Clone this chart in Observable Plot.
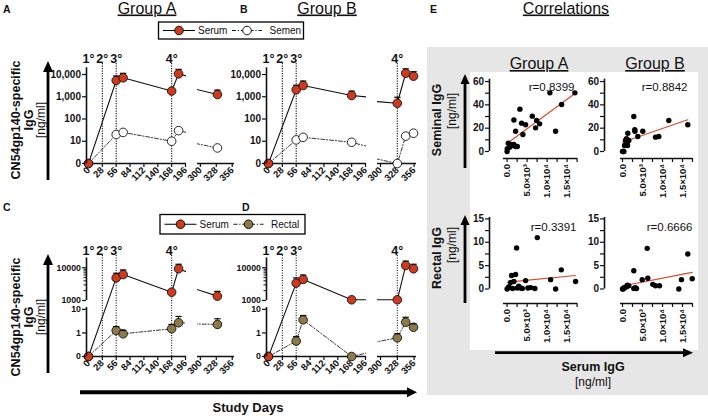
<!DOCTYPE html>
<html><head><meta charset="utf-8">
<script src="https://cdn.jsdelivr.net/npm/d3@7"></script>
<script src="https://cdn.jsdelivr.net/npm/@observablehq/plot@0.6"></script>
<style>
body{margin:0;background:#fff;}
#fig{position:relative;width:708px;height:416px;overflow:hidden;font-family:'Liberation Sans',Arial,Helvetica,sans-serif;}
#fig svg{position:absolute;left:0;top:0;}
</style></head>
<body><div id="fig"></div>
<script>
// ---------------- DATA ----------------
const DAYS_A = [0, 56, 70, 168, 182, 330];
const SERUM_A = [0, 5400, 7100, 1800, 10700, 1260];
const SERUM_A_UP = [null, 8600, 11300, null, 17000, 2000];
const SEMEN_A = [0, 20, 25, 10, 30, 5];

const DAYS_B = [0, 56, 70, 168, 328, 342, 355];
const SERUM_B = [0, 2050, 3200, 1140, 510, 11400, 8400];
const SERUM_B_UP = [null, 3300, 5100, 1800, 950, 18000, 13400];
const SEMEN_B = [0, 11.5, 15, 9, 0, 17, 23];

const SERUM_C = [0, 4900, 6200, 1790, 9300, 1360];
const SERUM_C_UP = [null, 6800, 8600, null, 12800, 1900];
const RECTAL_C = [0, 1.27, 0.92, 1.5, 2.7, 2.3];
const RECTAL_C_UP = [null, 1.86, 1.27, 2.3, 5.0, 4.0];

const SERUM_D = [0, 3400, 4400, 1050, 1050, 11700, 9300];
const SERUM_D_UP = [null, 4900, 6000, null, null, 16000, 12800];
const RECTAL_D = [0, 0.45, 3.6, 0, 0.62, 2.85, 1.75];
const RECTAL_D_UP = [null, 0.7, 5.5, null, 0.92, 4.6, 2.4];

const VACC_LABELS = ["1°", "2°", "3°", "4°"];
const VACC_DAYS_A = [0, 28, 56, 168];
const VACC_DAYS_B = [0, 28, 56, 328];

const X_TICKS_LEFT = [0, 28, 56, 84, 112, 140, 168, 196];
const X_TICKS_RIGHT = [300, 328, 356];
const Y_TICKS_AB = [1, 10, 100, 1000, 10000];
const Y_LABELS_AB = ["0", "10", "100", "1,000", "10,000"];
const Y_TICKS_CD = [0.1, 1, 10, 1000, 10000];
const Y_LABELS_CD = ["0", "1", "10", "1000", "10000"];
const Y_MINOR_CD = [2000, 3000, 4000, 5000, 6000, 7000, 8000, 9000];

// correlations (x = serum IgG, y = mucosal IgG)
const SEM_A_X = [0, 50, 300, 625, 875, 1300, 1700, 2125, 2550, 1700, 2125, 3200, 3625, 3950, 4625, 6300, 7125, 7375, 8125, 10700, 12125, 13625, 16950];
const SEM_A_Y = [0, 2.3, 7.1, 3.7, 6, 5.1, 6, 4.3, 4.3, 27, 17.4, 36.3, 24.3, 14.6, 22.9, 30.3, 20.3, 26.6, 23.7, 50.3, 17.4, 40.3, 50.3];
const SEM_B_X = [0, 150, 350, 500, 750, 1000, 1175, 1250, 1325, 1575, 2825, 3075, 3100, 3825, 5075, 8250, 9075, 11575, 16325];
const SEM_B_Y = [0, 0, 0, 5.1, 9.4, 10.9, 8, 5.1, 15.7, 9.4, 30, 18.6, 17.4, 12.9, 17.4, 12.3, 12.9, 26.6, 22.9];
const REC_A_X = [0, 250, 450, 875, 1125, 1400, 1700, 2125, 2375, 2550, 2900, 3375, 3800, 4625, 5200, 5900, 6950, 7550, 10875, 12125, 13550, 17125];
const REC_A_Y = [0, 0.2, 0.5, 1.4, 2.9, 0.1, 1.6, 3.1, 8.8, 0.2, 0.6, 0.2, 0.1, 1.8, 0.2, 0.3, 0.1, 11, 2.0, 0, 4.1, 1.6];
const REC_B_X = [0, 150, 325, 600, 1000, 1200, 1575, 2825, 2825, 3200, 3500, 4925, 6175, 6325, 7575, 8250, 9250, 14075, 14750, 16325, 17425];
const REC_B_Y = [0, 0, 0.2, 0.3, 0.5, 0.8, 0.7, 3.9, 0.1, 0.3, 0.1, 2.0, 8.7, 2.3, 1.0, 0.7, 0.7, 0, 2.0, 7.5, 2.2];
const R_LABELS = ["r=0.8399", "r=0.8842", "r=0.3391", "r=0.6666"];

const SC_X_TICKS = [0, 2500, 5000, 7500, 10000, 12500, 15000, 17500];
const SC_X_LABELS = {0: "0.0", 5000: "5.0×10³", 10000: "1.0×10⁴", 15000: "1.5×10⁴"};
const SEM_Y_TICKS = [0, 10, 20, 30, 40, 50, 60];
const SEM_Y_LABELS = {0: "0", 20: "20", 40: "40", 60: "60"};
const REC_Y_TICKS = [0, 2.5, 5, 7.5, 10, 12.5, 15];
const REC_Y_LABELS = {0: "0", 5: "5", 10: "10", 15: "15"};

// ---------------- STYLE ----------------
const W = 708, H = 416;
const FONT = "'Liberation Sans', Arial, Helvetica, sans-serif";
const RED = "#CD3A1E", OLIVE = "#8C7A48", REG = "#D9472C", INK = "#111";
const STYLE = {background: "transparent", overflow: "visible", fontFamily: FONT, fontSize: "10px", color: INK};
const CAP = {draw(ctx, size) { const r = Math.sqrt(size / Math.PI); ctx.moveTo(-r, 0); ctx.lineTo(r, 0); }};
const fig = document.getElementById("fig");

// ---------------- DECORATION ----------------
function txt(x, y, s, o = {}) {
  const {size = 12, weight = "normal", anchor = "start", rot = 0, under = false, base = "auto"} = o;
  const tr = rot ? ` transform="translate(${x},${y}) rotate(${rot})"` : "";
  const pos = rot ? ` x="0" y="0"` : ` x="${x}" y="${y}"`;
  return `<text${pos}${tr} font-size="${size}" font-weight="${weight}" text-anchor="${anchor}" dominant-baseline="${base}"${under ? ' text-decoration="underline"' : ''} fill="${INK}">${s}</text>`;
}
function arrowUp(x, yb, yt, w, hw, hl) {
  return `<line x1="${x}" y1="${yb}" x2="${x}" y2="${yt + hl - 1}" stroke="#000" stroke-width="${w}"/>` +
    `<polygon points="${x - hw / 2},${yt + hl} ${x + hw / 2},${yt + hl} ${x},${yt}" fill="#000"/>`;
}
function arrowRight(xl, xt, y, w, hw, hl) {
  return `<line x1="${xl}" y1="${y}" x2="${xt - hl + 1}" y2="${y}" stroke="#000" stroke-width="${w}"/>` +
    `<polygon points="${xt - hl},${y - hw / 2} ${xt - hl},${y + hw / 2} ${xt},${y}" fill="#000"/>`;
}
function legend(x, y, w, h, label2, fill2) {
  const cy = y + h / 2;
  return `<rect x="${x}" y="${y}" width="${w}" height="${h}" fill="#fff" stroke="#000" stroke-width="1.3"/>` +
    `<line x1="${x + 4.5}" x2="${x + 36.5}" y1="${cy}" y2="${cy}" stroke="#000" stroke-width="1"/>` +
    `<circle cx="${x + 20.5}" cy="${cy}" r="4.3" fill="${RED}" stroke="#000" stroke-width="0.9"/>` +
    txt(x + 39.5, cy + 3.6, "Serum", {size: 10}) +
    `<line x1="${x + 73.5}" x2="${x + 103.5}" y1="${cy}" y2="${cy}" stroke="#000" stroke-width="0.9" stroke-dasharray="4,1.8,1.2,1.8"/>` +
    `<circle cx="${x + 88.5}" cy="${cy}" r="4.3" fill="${fill2}" stroke="#000" stroke-width="0.9"/>` +
    txt(x + 111, cy + 3.6, label2, {size: 10});
}
function ylabelLeft(cy) {
  return txt(15.5, cy, "CN54gp140-specific", {size: 12.5, weight: "bold", anchor: "middle", rot: -90, base: "central"}) +
    txt(28.5, cy, "IgG", {size: 12.5, weight: "bold", anchor: "middle", rot: -90, base: "central"}) +
    txt(41, cy, "[ng/ml]", {size: 12, anchor: "middle", rot: -90, base: "central"});
}
let deco = "";
deco += `<rect x="427" y="47" width="281" height="348" fill="#E6E6E6"/>`;
deco += `<rect x="470" y="72" width="228" height="278" fill="#fff"/>`;
deco += txt(3, 13, "A", {size: 10.5, weight: "bold"}) + txt(240, 13, "B", {size: 10.5, weight: "bold"}) +
  txt(3, 211, "C", {size: 10.5, weight: "bold"}) + txt(242, 211, "D", {size: 10.5, weight: "bold"}) +
  txt(430, 13, "E", {size: 10.5, weight: "bold"});
deco += txt(147, 13.5, "Group A", {size: 16, anchor: "middle", under: true});
deco += txt(327, 13.5, "Group B", {size: 16, anchor: "middle", under: true});
deco += txt(566, 13.5, "Correlations", {size: 16, anchor: "middle", under: true});
deco += txt(539, 69, "Group A", {size: 16, anchor: "middle", under: true});
deco += txt(655, 69, "Group B", {size: 16, anchor: "middle", under: true});
deco += legend(158.5, 22, 145, 17, "Semen", "#fff");
deco += legend(160, 214.5, 145, 19.5, "Rectal", OLIVE);
deco += ylabelLeft(120) + ylabelLeft(317);
deco += arrowUp(48, 180, 61, 2.8, 10, 11);
deco += arrowUp(48, 373, 254, 2.8, 10, 11);
deco += arrowRight(80, 417, 392.3, 4, 10, 10);
deco += txt(248, 412, "Study Days", {size: 13, weight: "bold", anchor: "middle"});
deco += txt(437, 120, "Seminal IgG", {size: 12.5, weight: "bold", anchor: "middle", rot: -90, base: "central"});
deco += txt(452, 111, "[ng/ml]", {size: 12, anchor: "middle", rot: -90, base: "central"});
deco += txt(437, 258, "Rectal IgG", {size: 12.5, weight: "bold", anchor: "middle", rot: -90, base: "central"});
deco += txt(452, 245, "[ng/ml]", {size: 12, anchor: "middle", rot: -90, base: "central"});
deco += arrowUp(465, 168, 74, 2.8, 9, 10);
deco += arrowUp(465, 303, 215, 2.8, 9, 10);
deco += arrowRight(495, 693, 352.7, 2.8, 9, 10);
deco += txt(593, 371, "Serum IgG", {size: 12.5, weight: "bold", anchor: "middle"});
deco += txt(593, 386, "[ng/ml]", {size: 12, anchor: "middle"});
fig.insertAdjacentHTML("beforeend", `<svg width="${W}" height="${H}" viewBox="0 0 ${W} ${H}" style="font-family:${FONT}">${deco}</svg>`);

// ---------------- TIME-COURSE SEGMENTS ----------------
const SEG_L_A = {xRange: [86, 186], xDomain: [-4, 198], xTicks: X_TICKS_LEFT};
const SEG_R_A = {xRange: [197, 234], xDomain: [295, 360], xTicks: X_TICKS_RIGHT};
const SEG_L_B = {xRange: [266, 366], xDomain: [-4, 198], xTicks: X_TICKS_LEFT};
const SEG_R_B = {xRange: [377, 416], xDomain: [295, 360], xTicks: X_TICKS_RIGHT};
const Y_AB = {yType: "log", yDomain: [1, 20000], yRange: [163, 67.3], zero: 1, ySegs: [[1, 20000]],
  yTicks: Y_TICKS_AB, yLabels: Y_LABELS_AB, yMinor: [], yFont: 10, vaccDy: -5.3, vaccInset: 4.3};
const Y_CD = {yType: "log", yDomain: [0.1, 12, 1000, 20000], yRange: [356, 307, 300, 257.4], zero: 0.1,
  ySegs: [[0.1, 12], [1000, 20000]], yTicks: Y_TICKS_CD, yLabels: Y_LABELS_CD, yMinor: Y_MINOR_CD, yFont: 8.8, vaccDy: -3, vaccInset: 2.5};

function timeSeg(p) {
  const [x0, x1] = p.xDomain;
  const inX = d => d.day >= x0 && d.day <= x1;
  const Z = v => (v === 0 ? p.zero : v);
  const main = p.days.map((d, i) => ({day: d, v: Z(p.main[i]), up: p.mainUp[i]}));
  const sec = p.days.map((d, i) => ({day: d, v: Z(p.second[i]), up: p.secondUp ? p.secondUp[i] : null}));
  const vacc = p.vaccDays.map((d, i) => ({day: d, label: VACC_LABELS[i]})).filter(inX);
  const errs = [...main, ...sec].filter(d => d.up != null && inX(d));
  const top = Math.min(...p.yRange), bottom = Math.max(...p.yRange);
  const marks = [
    Plot.ruleX(vacc.filter(d => d.day > 0), {x: "day", stroke: INK, strokeWidth: 1.1, strokeDasharray: "1.2,1.3", insetTop: -p.vaccInset}),
    Plot.text(vacc, {x: "day", text: "label", frameAnchor: "top", lineAnchor: "bottom", dy: p.vaccDy, fontSize: 12.5, fontWeight: "bold", fill: INK}),
    Plot.line(sec, {x: "day", y: "v", stroke: "#222", strokeWidth: 0.9, strokeDasharray: "4,1.8,1.2,1.8", clip: true}),
    Plot.line(main, {x: "day", y: "v", stroke: INK, strokeWidth: 1.1, clip: true}),
    Plot.ruleY([p.zero], {stroke: INK, strokeWidth: 1.6}),
    Plot.axisX({ticks: p.xTicks, tickSize: 4, tickPadding: 1, tickRotate: -45, fontSize: 9.5, fontWeight: "bold", strokeWidth: 1.2,
      label: null, tickFormat: d => String(d)}),
    Plot.ruleX(errs, {x: "day", y1: "v", y2: "up", stroke: INK, strokeWidth: 1}),
    Plot.dot(sec.filter(inX), {x: "day", y: "v", r: 4.3, fill: p.secondFill, stroke: INK, strokeWidth: 0.9}),
    Plot.dot(main.filter(inX), {x: "day", y: "v", r: 4.3, fill: RED, stroke: INK, strokeWidth: 0.9}),
    Plot.dot(errs, {x: "day", y: "up", symbol: CAP, r: 3.2, fill: "none", stroke: INK, strokeWidth: 1.2})
  ];
  if (p.showY) {
    marks.push(
      Plot.ruleX(p.ySegs, {x: () => x0, y1: d => d[0], y2: d => d[1], stroke: INK, strokeWidth: 1.6}),
      Plot.axisY({ticks: p.yTicks, tickSize: 4, tickPadding: 1.5, fontSize: p.yFont, fontWeight: "bold", strokeWidth: 1.2,
        label: null, tickFormat: d => p.yLabels[p.yTicks.indexOf(d)]})
    );
    if (p.yMinor.length) marks.push(Plot.axisY({ticks: p.yMinor, tickSize: 2.5, label: null, tickFormat: () => "", strokeWidth: 1}));
  }
  return Plot.plot({
    width: W, height: H,
    marginLeft: p.xRange[0], marginRight: W - p.xRange[1], marginTop: top, marginBottom: H - bottom,
    x: {domain: p.xDomain, range: p.xRange, label: null},
    y: {type: p.yType, domain: p.yDomain, range: p.yRange, label: null, axis: p.showY ? undefined : null},
    style: STYLE,
    marks
  });
}

const panels = [
  {seg: [SEG_L_A, SEG_R_A], y: Y_AB, days: DAYS_A, main: SERUM_A, mainUp: SERUM_A_UP, second: SEMEN_A, secondUp: null, secondFill: "#fff", vaccDays: VACC_DAYS_A},
  {seg: [SEG_L_B, SEG_R_B], y: Y_AB, days: DAYS_B, main: SERUM_B, mainUp: SERUM_B_UP, second: SEMEN_B, secondUp: null, secondFill: "#fff", vaccDays: VACC_DAYS_B},
  {seg: [SEG_L_A, SEG_R_A], y: Y_CD, days: DAYS_A, main: SERUM_C, mainUp: SERUM_C_UP, second: RECTAL_C, secondUp: RECTAL_C_UP, secondFill: OLIVE, vaccDays: VACC_DAYS_A},
  {seg: [SEG_L_B, SEG_R_B], y: Y_CD, days: DAYS_B, main: SERUM_D, mainUp: SERUM_D_UP, second: RECTAL_D, secondUp: RECTAL_D_UP, secondFill: OLIVE, vaccDays: VACC_DAYS_B}
];
for (const pn of panels) {
  pn.seg.forEach((s, i) => {
    fig.appendChild(timeSeg({...s, ...pn.y, days: pn.days, main: pn.main, mainUp: pn.mainUp, second: pn.second,
      secondUp: pn.secondUp, secondFill: pn.secondFill, vaccDays: pn.vaccDays, showY: i === 0}));
  });
}

// ---------------- SCATTER PANELS ----------------
const SC_A_X = {xDomain: [-900, 17600], xRange: [503, 577], yAxisDx: -14};
const SC_B_X = {xDomain: [-500, 17500], xRange: [620, 692], yAxisDx: -16};
const SC_SEM_Y = {yDomain: [0, 62], yRange: [151, 78.7], xAxisDy: 7, yTicks: SEM_Y_TICKS, yLabels: SEM_Y_LABELS, rDy: 3.5};
const SC_REC_Y = {yDomain: [0, 15.3], yRange: [288.5, 217], xAxisDy: 14.5, yTicks: REC_Y_TICKS, yLabels: REC_Y_LABELS, rDy: 5};

function scatter(p) {
  const data = p.xs.map((x, i) => ({x, y: p.ys[i]}));
  return Plot.plot({
    width: W, height: H,
    marginLeft: p.xRange[0], marginRight: W - p.xRange[1], marginTop: p.yRange[1], marginBottom: H - p.yRange[0],
    x: {domain: p.xDomain, range: p.xRange, label: null},
    y: {domain: p.yDomain, range: p.yRange, label: null},
    style: STYLE,
    marks: [
      Plot.ruleX([p.xDomain[0]], {dx: p.yAxisDx, stroke: INK, strokeWidth: 1.6}),
      Plot.axisY({ticks: p.yTicks, tickSize: 4, tickPadding: 1.5, dx: p.yAxisDx, fontSize: 10, fontWeight: "bold", strokeWidth: 1.2,
        label: null, tickFormat: d => p.yLabels[d] ?? ""}),
      Plot.ruleY([p.yDomain[0]], {dy: p.xAxisDy, stroke: INK, strokeWidth: 1.6}),
      Plot.axisX({ticks: SC_X_TICKS, tickSize: 4, tickPadding: 1.5, dy: p.xAxisDy, tickRotate: -90, fontSize: 9.5, fontWeight: "bold", strokeWidth: 1.2,
        label: null, tickFormat: d => SC_X_LABELS[d] ?? ""}),
      Plot.linearRegressionY(data, {x: "x", y: "y", stroke: REG, strokeWidth: 1.1, ci: 0}),
      Plot.dot(data, {x: "x", y: "y", r: 2.7, fill: "#000"}),
      Plot.text([p.r], {text: d => d, frameAnchor: "top-right", dx: p.rDx, dy: p.rDy, textAnchor: "end", fontSize: 11.5, fill: INK})
    ]
  });
}
fig.appendChild(scatter({...SC_A_X, ...SC_SEM_Y, xs: SEM_A_X, ys: SEM_A_Y, r: R_LABELS[0], rDx: -3}));
fig.appendChild(scatter({...SC_B_X, ...SC_SEM_Y, xs: SEM_B_X, ys: SEM_B_Y, r: R_LABELS[1], rDx: -5}));
fig.appendChild(scatter({...SC_A_X, ...SC_REC_Y, xs: REC_A_X, ys: REC_A_Y, r: R_LABELS[2], rDx: -1}));
fig.appendChild(scatter({...SC_B_X, ...SC_REC_Y, xs: REC_B_X, ys: REC_B_Y, r: R_LABELS[3], rDx: 0}));
</script>
</body></html>
